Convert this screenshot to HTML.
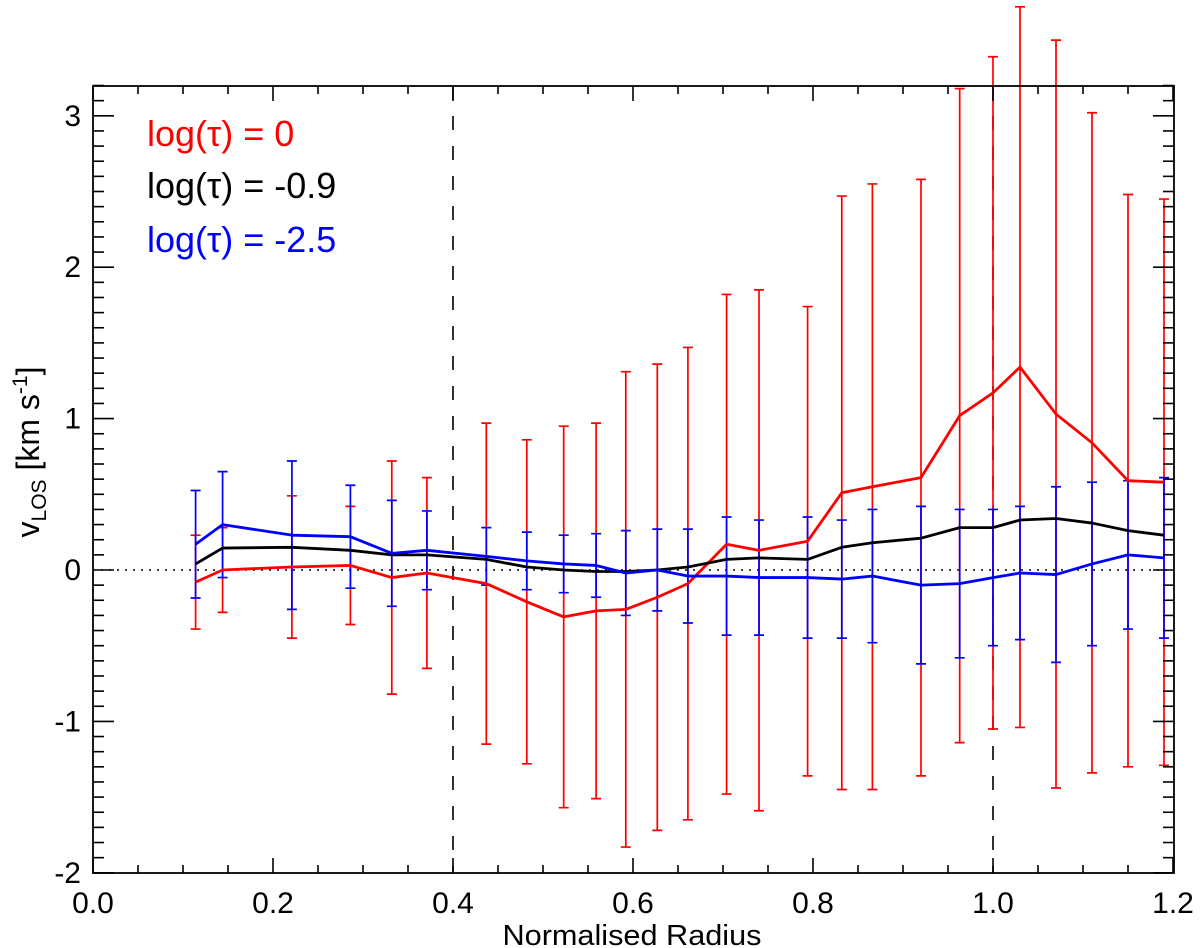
<!DOCTYPE html>
<html><head><meta charset="utf-8"><title>vLOS vs Normalised Radius</title>
<style>
html,body{margin:0;padding:0;background:#fff;}
svg{display:block;font-family:"Liberation Sans",Arial,sans-serif;}
</style></head>
<body>
<svg id="chart" width="1200" height="948" viewBox="0 0 1200 948" xmlns="http://www.w3.org/2000/svg"></svg>
<script>
const radius = [0.114,0.144,0.221,0.286,0.332,0.371,0.437,0.482,0.523,0.559,0.592,0.627,0.661,0.704,0.740,0.794,0.832,0.866,0.920,0.963,1.000,1.030,1.070,1.110,1.150,1.190];
const redValues = [-0.08,0.00,0.02,0.03,-0.05,-0.02,-0.09,-0.21,-0.31,-0.27,-0.26,-0.18,-0.09,0.17,0.13,0.19,0.51,0.55,0.61,1.02,1.17,1.34,1.03,0.84,0.59,0.58];
const redErrors = [0.31,0.28,0.47,0.39,0.77,0.63,1.06,1.07,1.26,1.24,1.57,1.54,1.56,1.65,1.72,1.55,1.96,2.00,1.97,2.16,2.22,2.38,2.47,2.18,1.89,1.87];
const blackValues = [0.04,0.145,0.15,0.13,0.10,0.10,0.07,0.02,0.00,-0.01,-0.01,0.00,0.02,0.07,0.08,0.07,0.15,0.18,0.21,0.28,0.28,0.33,0.34,0.31,0.26,0.23];
const blueValues = [0.17,0.30,0.23,0.22,0.11,0.13,0.09,0.06,0.04,0.03,-0.02,0.00,-0.04,-0.04,-0.05,-0.05,-0.06,-0.04,-0.10,-0.09,-0.05,-0.02,-0.03,0.04,0.10,0.08];
const blueErrors = [0.355,0.35,0.49,0.34,0.35,0.26,0.19,0.19,0.19,0.21,0.28,0.27,0.31,0.39,0.38,0.40,0.39,0.44,0.52,0.49,0.45,0.44,0.58,0.54,0.49,0.53];
const xTicks = [0.0,0.2,0.4,0.6,0.8,1.0,1.2];
const xTickLabels = ["0.0","0.2","0.4","0.6","0.8","1.0","1.2"];
const yTicks = [-2,-1,0,1,2,3];
const yTickLabels = ["-2","-1","0","1","2","3"];
const refLines = [0.4,1.0];

const NS="http://www.w3.org/2000/svg";
const svg=document.getElementById('chart');
const L=93,R=1174,T=86,B=873;
function sx(v){return 93+v*900;}
function sy(v){return 570-v*151.4;}
function mk(tag,attrs,parent){const e=document.createElementNS(NS,tag);for(const k in attrs)e.setAttribute(k,attrs[k]);(parent||svg).appendChild(e);return e;}

const zl=mk('line',{x1:L,x2:R,y1:sy(0),y2:sy(0),stroke:'#000','stroke-width':1.6,'stroke-dasharray':'2,6'});


refLines.forEach(v=>{
  const l=mk('line',{x1:sx(v),x2:sx(v),y1:T,y2:B,stroke:'#000','stroke-width':1.6,'stroke-dasharray':'14,16'});
  
  
});

function series(vals,color,name,w){
  const g=mk('g',{});
  
  
  const p=mk('polyline',{points:vals.map((v,i)=>sx(radius[i])+','+sy(v)).join(' '),fill:'none',stroke:color,'stroke-width':w,'stroke-linejoin':'round'},g);
  
  
  return g;
}
function errs(vals,errors,color,name){
  const g=mk('g',{stroke:color,'stroke-width':1.7,fill:'none'});
  
  
  vals.forEach((v,i)=>{
    const x=sx(radius[i]),y1=sy(v+errors[i]),y2=sy(v-errors[i]);
    const p=mk('path',{d:`M${x},${y1}V${y2}M${x-5},${y1}H${x+5}M${x-5},${y2}H${x+5}`},g);
    
    
  });
}
errs(redValues,redErrors,'#f00','red-error-bars');
errs(blueValues,blueErrors,'#00f','blue-error-bars');
series(redValues,'#f00','red-series',2.8);
series(blackValues,'#000','black-series',2.8);
series(blueValues,'#00f','blue-series',2.8);

const fr=mk('rect',{x:L,y:T,width:R-L,height:B-T,fill:'none',stroke:'#000','stroke-width':1.8});


const tg=mk('g',{stroke:'#000','stroke-width':1.6});


for(let k=0;k<=24;k++){
  const v=k*0.05,x=sx(v),len=(k%4===0)?15:8;
  mk('line',{x1:x,x2:x,y1:B,y2:B-len},tg);
  mk('line',{x1:x,x2:x,y1:T,y2:T+len},tg);
}
for(let k=0;k<=52;k++){
  const v=-2+k*0.1,y=sy(v),len=(k%10===0)?21:11;
  mk('line',{x1:L,x2:L+len,y1:y,y2:y},tg);
  mk('line',{x1:R,x2:R-len,y1:y,y2:y},tg);
}
xTicks.forEach((v,i)=>{
  const t=mk('text',{x:sx(v),y:913,'font-size':30,'text-anchor':'middle',fill:'#000'});
  t.textContent=xTickLabels[i];
  
  
});
yTicks.forEach((v,i)=>{
  const t=mk('text',{x:81,y:sy(v)+10,'font-size':30,'text-anchor':'end',fill:'#000'});
  t.textContent=yTickLabels[i];
  
  
});
</script>
<svg style="position:absolute;left:0;top:0" width="1200" height="948">
  <text x="632" y="945" font-size="29" text-anchor="middle" font-family="Liberation Sans, sans-serif" textLength="259" lengthAdjust="spacingAndGlyphs">Normalised Radius</text>
  <text transform="translate(39,452) rotate(-90)" font-size="32" text-anchor="middle" font-family="Liberation Sans, sans-serif">v<tspan font-size="21" dy="7">LOS</tspan><tspan dy="-7"> [km s</tspan><tspan font-size="21" dy="-12">-1</tspan><tspan dy="12">]</tspan></text>
  <text x="147" y="146" font-size="36" fill="#f00" font-family="Liberation Sans, sans-serif">log(τ) = 0</text>
  <text x="147" y="198" font-size="36" fill="#000" font-family="Liberation Sans, sans-serif">log(τ) = -0.9</text>
  <text x="147" y="252" font-size="36" fill="#00f" font-family="Liberation Sans, sans-serif">log(τ) = -2.5</text>
</svg>
</body></html>
